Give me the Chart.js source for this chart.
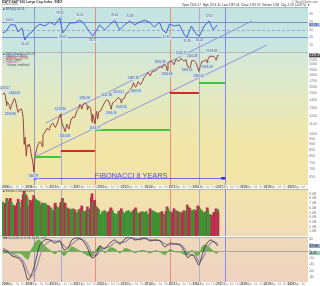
<!DOCTYPE html>
<html>
<head>
<meta charset="utf-8">
<script src="https://cdn.jsdelivr.net/npm/chart.js@4.4.1/dist/chart.umd.min.js"></script>
<style>
html, body { margin: 0; padding: 0; background: #fff; width: 320px; height: 286px; overflow: hidden; }
canvas { position: absolute; left: 0; }
#rsi { top: 0; z-index: 1; }
#price { top: 0; z-index: 2; }
#vol { top: 189px; z-index: 1; }
#macd { top: 236px; z-index: 1; }
</style>
</head>
<body>
<canvas id="rsi" width="320" height="52"></canvas>
<canvas id="price" width="320" height="189"></canvas>
<canvas id="vol" width="320" height="47"></canvas>
<canvas id="macd" width="320" height="50"></canvas>
<script>
// weekly $SPX (decimal years)
const priceDates = [
  2007.88,2007.96,2008.00,2008.06,2008.08,2008.17,2008.21,2008.25,2008.33,2008.38,
  2008.42,2008.50,2008.54,2008.58,2008.67,2008.71,2008.75,2008.79,2008.83,2008.88,
  2008.92,2008.97,2009.00,2009.05,2009.08,2009.17,2009.19,2009.25,2009.33,2009.42,
  2009.50,2009.55,2009.58,2009.67,2009.75,2009.83,2009.92,2010.00,2010.08,2010.10,
  2010.17,2010.25,2010.31,2010.33,2010.40,2010.42,2010.50,2010.51,2010.58,2010.67,
  2010.75,2010.83,2010.92,2011.00,2011.08,2011.13,2011.17,2011.21,2011.25,2011.33,
  2011.42,2011.45,2011.50,2011.58,2011.61,2011.64,2011.67,2011.75,2011.76,2011.83,
  2011.88,2011.92,2012.00,2012.08,2012.17,2012.25,2012.33,2012.42,2012.44,2012.50,
  2012.58,2012.67,2012.75,2012.83,2012.87,2012.92,2013.00,2013.08,2013.17,2013.25,
  2013.33,2013.38,2013.42,2013.47,2013.50,2013.58,2013.67,2013.75,2013.83,2013.92,
  2014.00,2014.08,2014.17,2014.25,2014.33,2014.42,2014.50,2014.58,2014.67,2014.75,
  2014.79,2014.83,2014.92,2015.00,2015.08,2015.17,2015.25,2015.33,2015.38,2015.42,
  2015.50,2015.58,2015.64,2015.67,2015.71,2015.75,2015.83,2015.92,2016.00,2016.08,
  2016.12,2016.17,2016.25,2016.33,2016.42,2016.48,2016.50,2016.58,2016.67,2016.75,
  2016.83,2016.85,2016.92,2016.93
];
const priceValues = [
  1481,1504,1468,1325,1378,1330,1276,1322,1385,1426,
  1400,1280,1239,1267,1282,1252,1166,899,968,800,
  896,880,903,870,825,735,683,797,872,919,
  919,880,987,1020,1057,1036,1095,1115,1073,1066,
  1104,1169,1217,1186,1088,1089,1030,1022,1101,1049,
  1141,1183,1180,1257,1286,1343,1327,1279,1325,1363,
  1345,1271,1320,1292,1199,1123,1218,1131,1110,1253,
  1159,1246,1257,1312,1365,1408,1397,1310,1278,1362,
  1379,1406,1440,1412,1360,1416,1426,1498,1514,1569,
  1597,1667,1631,1592,1606,1686,1633,1682,1757,1806,
  1848,1783,1859,1872,1884,1924,1960,1931,2003,1972,
  1886,2018,2068,2059,1995,2105,2068,2086,2127,2107,
  2063,2104,1971,1972,1921,1920,2079,2080,2044,1940,
  1865,1932,2060,2065,2097,2037,2099,2174,2171,2168,
  2126,2085,2199,2191
];
// billions of shares, same dates as the price
const volumeValues = [
  7.2,7.0,6.8,8.0,7.8,7.4,8.0,7.2,6.6,6.2,
  6.4,7.0,7.8,7.2,6.0,7.6,8.8,9.5,9.0,8.6,
  8.0,6.0,6.4,7.6,7.2,7.8,8.6,8.0,7.6,7.4,
  6.6,7.0,6.8,7.0,6.6,6.4,6.0,5.4,6.8,7.0,
  6.2,6.0,6.4,7.2,8.0,7.4,6.8,7.0,6.0,5.8,
  5.6,5.8,5.6,5.0,5.6,5.4,5.8,6.4,5.4,5.2,
  5.4,6.2,5.6,5.8,8.2,9.0,7.2,7.6,7.0,6.2,
  5.8,5.6,4.6,5.2,5.4,5.0,5.2,5.8,6.0,5.4,
  4.8,4.6,5.2,5.4,5.8,5.2,4.8,5.2,5.4,5.0,
  5.2,5.4,5.6,6.0,5.4,4.8,5.0,5.2,5.0,5.2,
  4.6,5.8,5.4,5.2,5.0,4.8,5.0,5.2,4.6,5.2,
  6.2,5.8,5.2,5.0,5.8,5.4,5.2,5.0,4.8,5.0,
  5.4,5.2,6.6,6.2,6.0,5.8,5.4,5.6,5.4,6.4,
  6.2,5.8,5.4,5.0,5.2,6.0,5.4,4.6,4.4,5.0,
  5.2,5.8,5.6,5.0
];

const rsiDates = [
  2007.90,2008.03,2008.20,2008.41,2008.53,2008.70,2008.82,2008.95,2009.12,2009.24,
  2009.45,2009.66,2009.87,2010.08,2010.29,2010.41,2010.54,2010.71,2010.92,2011.12,
  2011.25,2011.54,2011.67,2011.84,2011.96,2012.17,2012.38,2012.59,2012.80,2013.01,
  2013.22,2013.43,2013.64,2013.84,2014.05,2014.26,2014.47,2014.60,2014.76,2014.89,
  2015.10,2015.31,2015.52,2015.64,2015.81,2016.02,2016.15,2016.35,2016.56,2016.73,
  2016.90
];
const rsiValues = [
  41,45,62,62,44,54,23,36,44,54,
  64,59,69,62,80,41,51,67,67,74,
  69,44,33,49,62,49,62,74,49,62,
  72,62,69,74,69,56,69,49,41,64,
  59,62,36,31,59,38,33,59,72,49,
  62
];

const macdDates = [
  2007.90,2008.11,2008.28,2008.53,2008.70,2008.82,2008.95,2009.07,2009.20,2009.33,
  2009.45,2009.66,2009.87,2010.08,2010.29,2010.46,2010.63,2010.80,2011.01,2011.22,
  2011.43,2011.64,2011.81,2011.97,2012.18,2012.39,2012.60,2012.81,2013.02,2013.23,
  2013.44,2013.65,2013.86,2014.07,2014.28,2014.49,2014.70,2014.91,2015.12,2015.33,
  2015.54,2015.67,2015.84,2016.01,2016.13,2016.30,2016.47,2016.64,2016.81,2016.93
];
const macdValues = [
  5,-2,-14,-20,-33,-58,-89,-76,-51,-11,
  20,36,36,26,33,5,11,36,42,36,
  14,-20,-11,17,8,26,36,23,39,45,
  36,39,42,33,36,33,14,26,23,20,
  -2,-20,-8,-27,-42,-2,26,36,26,17
];
const signalValues = [
  10,2,-8,-15,-25,-40,-65,-78,-70,-45,
  -15,20,32,33,30,18,10,22,36,38,
  25,-5,-15,0,12,15,28,28,30,40,
  40,37,40,38,34,34,24,20,24,22,
  8,-10,-12,-15,-32,-20,8,28,30,22
];
const histValues = [
  -5,-4,-6,-5,-8,-18,-24,2,19,34,
  35,16,4,-7,3,-13,1,14,6,-2,
  -11,-15,4,17,-4,11,8,-5,9,5,
  -4,2,2,-5,2,-1,-10,6,-1,-2,
  -10,-10,4,-12,-10,18,18,8,-4,-5
];

// annotations (dates and prices)
const markerDates = [2009.20, 2010.33, 2011.76, 2014.91, 2016.13, 2017.23];
const levelStarts = [2009.24, 2010.33, 2011.76, 2014.91, 2016.13];
const levelEnds   = [2010.33, 2011.76, 2014.91, 2016.13, 2017.23];
const levelPrices = [793, 842, 1039, 1504, 1662];
const upperChannelDates = [2009.70, 2018.36];
const upperChannelPrices = [1114, 3089];
const lowerChannelDates = [2009.24, 2018.99];
const lowerChannelPrices = [793, 2430];
const fibDates = [2009.24, 2017.19];
const fibPrice = 643;
const fibText = 'FIBONACCI 8 YEARS';

const swingDates  = [2007.96,2008.38,2008.21,2009.19,2010.31,2010.51,2011.33,2011.76,2012.25,2012.44,2012.75,2012.87,2013.38,2013.47,2014.50,2014.79,2015.38,2015.64,2015.84,2016.12,2016.48,2016.67];
const swingPrices = [1504,1426,1276,683,1217,1022,1363,1110,1408,1278,1440,1360,1667,1592,1960,1886,2127,1971,2079,1865,2037,2171];
const swingTexts  = ['1523.57','1440.24','1256.98','666.79','1219.80','1010.91','1370.58','1074.77','1422.38','1266.74','1474.51','1343.35','1687.18','1560.33','1991.39','1820.66','2134.72','1867.01','2116.48','1810.10','1991.68','2193.81'];
const swingKinds  = ['hi','hi','lo','lo','hi','lo','hi','lo','hi','lo','hi','lo','hi','lo','hi','lo','hi','lo','hi','lo','lo','hi'];

const rsiLabelDates  = [2008.20,2008.82,2010.29,2010.41,2011.12,2011.67,2012.59,2013.22,2014.76,2015.64,2016.15,2016.56];
const rsiLabelValues = [62,23,80,41,74,33,74,72,41,31,33,72];
const rsiLabelTexts  = ['60.01','24.43','78.92','38.67','74.55','33.72','70.61','75.89','41.42','31.95','35.02','72.81'];
const rsiLabelKinds  = ['hi','lo','hi','lo','hi','lo','hi','hi','lo','lo','lo','hi'];

const priceTicks = [2200,2100,2000,1900,1800,1700,1600,1500,1400,1300,1200,1100,1000,950,900,850,800,750,700,650];
const rsiTicks = [10,30,50,70,90];
const volumeTicks = [1,2,3,4,5,6,7,8,9];
const volumeTickLabels = ['1.0B','2.0B','3.0B','4.0B','5.0B','6.0B','7.0B','8.0B','9.0B'];
const macdTicks = [-80,-60,-40,-20,0,20,40];
const tickYears = [2008,2009,2010,2011,2012,2013,2014,2015,2016,2017,2018,2019,2020];
const quarterLabels = ['Apr','Jul','Oct'];

// ---- styles ----
const X_MIN = 2007.86, X_MAX = 2020.71;
const FONT = '"Liberation Sans", Arial, sans-serif';
const markerColors = ['#8c9ad2', '#a2aad2', '#f08c74', '#f08c74', '#b0b2cc', '#8a8ae2'];
const levelColors = ['#3cc83c', '#e02424', '#3cc83c', '#e02424', '#3cc83c'];

const dateTicks = [], dateTickLabels = [];
tickYears.forEach(y => {
  dateTicks.push(y); dateTickLabels.push(String(y));
  quarterLabels.forEach((m, i) => { dateTicks.push(y + (i + 1) / 4); dateTickLabels.push(m); });
});

function txt(ctx, s, x, y, color, size, weight, align) {
  ctx.font = (weight || '') + ' ' + size + 'px ' + FONT;
  ctx.fillStyle = color;
  ctx.textAlign = align || 'left';
  ctx.textBaseline = 'middle';
  ctx.fillText(s, x, y);
}

function xAxis() {
  return { type: 'linear', min: X_MIN, max: X_MAX, offset: false, grid: { offset: false }, display: false };
}

function rightAxis(opts) {
  return Object.assign({
    position: 'right',
    grid: { display: false, drawTicks: false },
    border: { display: false },
    afterFit(s) { s.width = 12; s.paddingTop = 0; s.paddingBottom = 0; }
  }, opts);
}

function tickFont() {
  return { autoSkip: false, padding: 1, color: '#7a7a7a', font: { size: 3.6, family: FONT } };
}

function bgPlugin(stops) {
  return {
    id: 'panelBg',
    beforeDraw(chart) {
      const { ctx, chartArea: a } = chart;
      const g = ctx.createLinearGradient(0, a.top, 0, a.bottom);
      stops.forEach((c, i) => g.addColorStop(i / (stops.length - 1), c));
      ctx.save();
      ctx.fillStyle = g;
      ctx.fillRect(a.left, a.top, a.right - a.left, a.bottom - a.top);
      ctx.strokeStyle = '#b8b8b8';
      ctx.lineWidth = 1;
      ctx.beginPath();
      ctx.moveTo(a.left, a.top + 0.5); ctx.lineTo(a.right, a.top + 0.5);
      ctx.stroke();
      ctx.restore();
    }
  };
}

function markerPlugin(extra) {
  return {
    id: 'markers',
    beforeDatasetsDraw(chart) {
      const { ctx, chartArea: a, scales: { x } } = chart;
      ctx.save();
      ctx.lineWidth = 1;
      markerDates.forEach((d, i) => {
        const px = Math.round(x.getPixelForValue(d)) + 0.5;
        ctx.strokeStyle = markerColors[i];
        ctx.beginPath(); ctx.moveTo(px, a.top); ctx.lineTo(px, a.bottom + extra); ctx.stroke();
      });
      ctx.restore();
    }
  };
}

function dateStrip(chart, y, bg) {
  const { ctx, chartArea: a, scales: { x } } = chart;
  ctx.save();
  if (bg) { ctx.fillStyle = bg; ctx.fillRect(a.left, y - 2, a.right - a.left, 4); }
  dateTicks.forEach((d, i) => {
    const px = x.getPixelForValue(d);
    if (px < a.left + 1 || px > a.right - 2) return;
    const isYear = dateTickLabels[i].length === 4;
    txt(ctx, dateTickLabels[i], px, y, isYear ? '#444' : '#8a8a8a', 3, isYear ? 'bold' : '', 'center');
  });
  ctx.restore();
}

function valueBox(ctx, chart, scaleId, value, label, bg, fg) {
  const y = chart.scales[scaleId].getPixelForValue(value);
  const a = chart.chartArea;
  ctx.fillStyle = bg;
  ctx.fillRect(a.right + 1, y - 2, 11, 4);
  txt(ctx, label, a.right + 1.5, y, fg, 3.2);
}

function tagBoxes(ctx, chart, scaleId, dates, values, texts, kinds, bg) {
  const x = chart.scales.x, ys = chart.scales[scaleId];
  ctx.font = '3px ' + FONT;
  dates.forEach((d, i) => {
    const px = x.getPixelForValue(d), py = ys.getPixelForValue(values[i]);
    const w = ctx.measureText(texts[i]).width + 2;
    const top = kinds[i] === 'hi' ? py - 7 : py + 2;
    ctx.fillStyle = bg;
    ctx.fillRect(px - w / 2, top, w, 4.5);
    txt(ctx, texts[i], px, top + 2.3, '#4a5560', 3, '', 'center');
  });
}

const common = {
  responsive: false,
  animation: false,
  events: [],
  plugins: { legend: { display: false }, tooltip: { enabled: false } }
};

// ---- RSI panel ----
new Chart(document.getElementById('rsi'), {
  type: 'line',
  data: {
    datasets: [{
      data: rsiDates.map((d, i) => ({ x: d, y: rsiValues[i] })),
      borderColor: '#3c62dc', borderWidth: 1, pointRadius: 0, tension: 0
    }]
  },
  options: Object.assign({}, common, {
    layout: { padding: { left: 2, top: 7, right: 0, bottom: 0 } },
    scales: {
      x: xAxis(),
      y: rightAxis({
        min: -8, max: 108,
        afterBuildTicks(s) { s.ticks = rsiTicks.map(v => ({ value: v })); },
        ticks: tickFont()
      })
    }
  }),
  plugins: [
    bgPlugin(['#c4e4e2', '#c9e6de']),
    markerPlugin(0),
    {
      id: 'rsiLevels',
      beforeDatasetsDraw(chart) {
        const { ctx, chartArea: a, scales: { y } } = chart;
        ctx.save();
        ctx.lineWidth = 1;
        ctx.strokeStyle = '#7d8fd6';
        [70, 30].forEach(v => {
          const py = Math.round(y.getPixelForValue(v)) + 0.5;
          ctx.beginPath(); ctx.moveTo(a.left, py); ctx.lineTo(a.right, py); ctx.stroke();
        });
        ctx.setLineDash([3, 2]);
        ctx.strokeStyle = '#9aa6da';
        const p50 = Math.round(y.getPixelForValue(50)) + 0.5;
        ctx.beginPath(); ctx.moveTo(a.left, p50); ctx.lineTo(a.right, p50); ctx.stroke();
        ctx.restore();
      },
      afterDatasetsDraw(chart) {
        const { ctx } = chart;
        ctx.save();
        tagBoxes(ctx, chart, 'y', rsiLabelDates, rsiLabelValues, rsiLabelTexts, rsiLabelKinds, 'rgba(214,232,244,0.9)');
        valueBox(ctx, chart, 'y', rsiValues[rsiValues.length - 1], '62.76', '#a6c2e8', '#223');
        txt(ctx, '$SPX S&P 500 Large Cap Index  INDX', 2, 1.8, '#333', 3.4, 'bold');
        txt(ctx, '2-Dec-2016', 2, 4.6, '#555', 3);
        txt(ctx, '\u00a9 StockCharts.com', 318, 1.8, '#666', 3, '', 'right');
        txt(ctx, 'Open 2200.17  High 2214.10  Low 2187.44  Close 2191.95  Volume 2.6B  Chg -1.59 (-0.07%) \u25bc', 310, 4.8, '#333', 3, '', 'right');
        txt(ctx, '\u25a0 RSI(14) 62.76', 3, 9, '#2d4e7a', 3);
        ctx.restore();
      }
    }
  ]
});

// ---- price panel ----
new Chart(document.getElementById('price'), {
  type: 'line',
  data: {
    datasets: [
      {
        data: priceDates.map((d, i) => ({ x: d, y: priceValues[i] })),
        borderColor: '#9a463e', borderWidth: 1, pointRadius: 0, tension: 0
      },
      {
        data: upperChannelDates.map((d, i) => ({ x: d, y: upperChannelPrices[i] })),
        borderColor: '#8f93de', borderWidth: 1, pointRadius: 0, clip: false
      },
      {
        data: lowerChannelDates.map((d, i) => ({ x: d, y: lowerChannelPrices[i] })),
        borderColor: '#8f93de', borderWidth: 1, pointRadius: 0, clip: false
      }
    ]
  },
  options: Object.assign({}, common, {
    layout: { padding: { left: 2, top: 52, right: 0, bottom: 4 } },
    scales: {
      x: xAxis(),
      y: rightAxis({
        type: 'logarithmic', min: 599.5, max: 2266,
        afterBuildTicks(s) { s.ticks = priceTicks.map(v => ({ value: v })); },
        ticks: Object.assign(tickFont(), { callback: v => String(v) })
      })
    }
  }),
  plugins: [
    bgPlugin(['#d3e8d8', '#e2e9c2', '#f0e6a8', '#f2e4a6']),
    markerPlugin(4),
    {
      id: 'priceNotes',
      afterDatasetsDraw(chart) {
        const { ctx, chartArea: a, scales: { x, y } } = chart;
        ctx.save();
        dateStrip(chart, a.bottom + 2, '#fbfbf6');
        levelPrices.forEach((p, i) => {
          const py = Math.round(y.getPixelForValue(p));
          ctx.strokeStyle = levelColors[i];
          ctx.lineWidth = 2;
          ctx.beginPath();
          ctx.moveTo(x.getPixelForValue(levelStarts[i]), py);
          ctx.lineTo(x.getPixelForValue(levelEnds[i]), py);
          ctx.stroke();
        });
        const fy = Math.round(y.getPixelForValue(fibPrice)) + 0.5;
        const fx0 = x.getPixelForValue(fibDates[0]), fx1 = x.getPixelForValue(fibDates[1]);
        ctx.strokeStyle = '#6a6af0';
        ctx.lineWidth = 1;
        ctx.beginPath(); ctx.moveTo(fx0, fy); ctx.lineTo(fx1, fy); ctx.stroke();
        ctx.fillStyle = '#2a2ae8';
        ctx.fillRect(fx1 - 3, fy - 1.5, 4, 2.5);
        ctx.fillRect(fx0 - 1, fy - 1.5, 3, 2.5);
        ctx.font = '7.3px ' + FONT;
        ctx.fillStyle = '#4a4aee';
        ctx.textAlign = 'center';
        ctx.textBaseline = 'alphabetic';
        ctx.fillText(fibText, (fx0 + fx1) / 2 + 1.5, fy - 1);
        tagBoxes(ctx, chart, 'y', swingDates, swingPrices, swingTexts, swingKinds, 'rgba(206,228,242,0.95)');
        valueBox(ctx, chart, 'y', priceValues[priceValues.length - 1], '2191.95', '#4a4a4a', '#fff');
        txt(ctx, '\u25a0 $SPX (Weekly) 2191.95', 3, 54, '#4a5a6a', 2.8);
        txt(ctx, '\u2014 MA(50) 2136.14', 3, 56, '#3355cc', 2.8);
        txt(ctx, '\u2014 MA(200) 2070.66', 3, 58, '#cc3333', 2.8);
        txt(ctx, '\u2014 Price Labels', 3, 60, '#4a6a30', 2.8);
        txt(ctx, '\u2014 Fibonacci', 3, 62, '#cc44cc', 2.8);
        txt(ctx, 'Volume undefined', 7, 65, '#555', 2.8);
        ctx.restore();
      }
    }
  ]
});

// ---- volume panel ----
const volumeColors = volumeValues.map((v, i) => (i === 0 || priceValues[i] >= priceValues[i - 1]) ? '#3f9134' : '#c22a52');
new Chart(document.getElementById('vol'), {
  type: 'bar',
  data: {
    datasets: [{
      data: priceDates.map((d, i) => ({ x: d, y: volumeValues[i] })),
      backgroundColor: volumeColors, barThickness: 2, borderWidth: 0
    }]
  },
  options: Object.assign({}, common, {
    layout: { padding: { left: 2, top: 0, right: 0, bottom: 0 } },
    scales: {
      x: xAxis(),
      y: rightAxis({
        min: 0, max: 10,
        afterBuildTicks(s) { s.ticks = volumeTicks.map(v => ({ value: v })); },
        ticks: Object.assign(tickFont(), { callback: v => volumeTickLabels[volumeTicks.indexOf(v)] })
      })
    }
  }),
  plugins: [
    bgPlugin(['#f2e4a8', '#f0dcb6']),
    markerPlugin(0),
    {
      id: 'volNotes',
      afterDatasetsDraw(chart) {
        const { ctx } = chart;
        ctx.save();
        txt(ctx, '\u25a0 Volume 2,630,401,000', 3, 2, '#444', 2.8);
        ctx.restore();
      }
    }
  ]
});

// ---- MACD panel ----
new Chart(document.getElementById('macd'), {
  type: 'line',
  data: {
    datasets: [
      {
        data: macdDates.map((d, i) => ({ x: d, y: macdValues[i] })),
        borderColor: '#262626', borderWidth: 0.8, pointRadius: 0, tension: 0.3
      },
      {
        data: macdDates.map((d, i) => ({ x: d, y: signalValues[i] })),
        borderColor: '#a08cb4', borderWidth: 1.2, pointRadius: 0, tension: 0.3
      },
      {
        data: macdDates.map((d, i) => ({ x: d, y: histValues[i] })),
        borderColor: '#4f9c38', borderWidth: 0.6, pointRadius: 0, tension: 0.3,
        fill: 'origin', backgroundColor: 'rgba(88,170,64,0.85)'
      }
    ]
  },
  options: Object.assign({}, common, {
    layout: { padding: { left: 2, top: 1, right: 0, bottom: 4 } },
    scales: {
      x: xAxis(),
      y: rightAxis({
        min: -95, max: 45,
        afterBuildTicks(s) { s.ticks = macdTicks.map(v => ({ value: v })); },
        ticks: tickFont()
      })
    }
  }),
  plugins: [
    bgPlugin(['#efd9bc', '#efd3c0']),
    markerPlugin(0),
    {
      id: 'macdNotes',
      beforeDatasetsDraw(chart) {
        const { ctx, chartArea: a, scales: { y } } = chart;
        const py = Math.round(y.getPixelForValue(0)) + 0.5;
        ctx.save();
        ctx.strokeStyle = '#a8a8a0';
        ctx.lineWidth = 1;
        ctx.beginPath(); ctx.moveTo(a.left, py); ctx.lineTo(a.right, py); ctx.stroke();
        ctx.restore();
      },
      afterDatasetsDraw(chart) {
        const { ctx, chartArea: a } = chart;
        ctx.save();
        const n = macdValues.length - 1;
        valueBox(ctx, chart, 'y', macdValues[n], '17.58', '#98a8c8', '#222');
        valueBox(ctx, chart, 'y', histValues[n], '-4.41', '#9cc8b8', '#222');
        txt(ctx, 'MACD(12,26,9) 17.58, 21.99, -4.41', 3, a.top + 1.5, '#444', 2.8);
        dateStrip(chart, a.bottom + 2, null);
        ctx.restore();
      }
    }
  ]
});
</script>
</body>
</html>
